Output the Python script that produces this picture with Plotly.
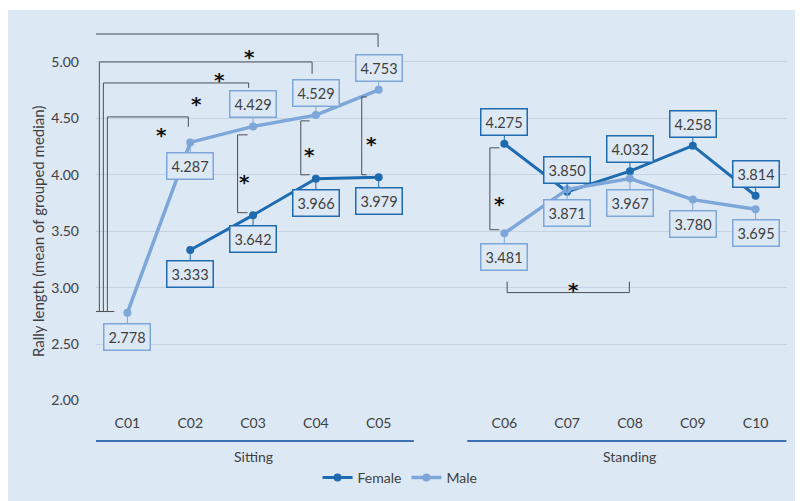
import plotly.graph_objects as go

# ---------------- data ----------------
categories = ["C01", "C02", "C03", "C04", "C05", "C06", "C07", "C08", "C09", "C10"]
groups = ["Sitting"] * 5 + ["Standing"] * 5
female = [None, 3.333, 3.642, 3.966, 3.979, 4.275, 3.850, 4.032, 4.258, 3.814]
male = [2.778, 4.287, 4.429, 4.529, 4.753, 3.481, 3.871, 3.967, 3.780, 3.695]
y_ticks = [2.00, 2.50, 3.00, 3.50, 4.00, 4.50, 5.00]

# label placement (+1 above, -1 below)
female_side = [0, -1, -1, -1, -1, 1, 1, 1, 1, 1]
male_side = [-1, -1, 1, 1, 1, -1, -1, -1, -1, -1]

# ---------------- style ----------------
BG = "#dde8f5"
FEMALE_C = "#1f6bb0"
MALE_C = "#7da6d9"
TXT = "#404040"
BRK = "#4a4f55"
GRID = "#c5d2e2"
FONT = "Lato"

group_names = []
for g in groups:
    if g not in group_names:
        group_names.append(g)
# x positions: one empty slot between groups
x_pos = [i + group_names.index(g) for i, g in enumerate(groups)]

fig = go.Figure()
for series, vals, col, w in [("Female", female, FEMALE_C, 3), ("Male", male, MALE_C, 3.5)]:
    for gi, gname in enumerate(group_names):
        xs = [x for x, g in zip(x_pos, groups) if g == gname]
        ys = [v for v, g in zip(vals, groups) if g == gname]
        fig.add_trace(go.Scatter(
            x=xs, y=ys, mode="lines+markers", name=series,
            legendgroup=series, showlegend=(gi == 0),
            line=dict(color=col, width=w),
            marker=dict(color=col, size=8),
            connectgaps=False, hoverinfo="skip"))

# value labels
for vals, sides, col in [(female, female_side, FEMALE_C), (male, male_side, MALE_C)]:
    for x, v, s in zip(x_pos, vals, sides):
        if v is None:
            continue
        fig.add_annotation(
            x=x, y=v, xref="x", yref="y", text=f"{v:.3f}",
            showarrow=True, arrowhead=0, arrowwidth=1, arrowcolor=col,
            ax=0, ay=-22 if s > 0 else 24, standoff=0,
            bgcolor=BG, bordercolor=col, borderwidth=1.5, borderpad=4,
            font=dict(family=FONT, size=14.5, color=TXT))

# significance brackets (data coordinates)
shapes = []
def path(pts):
    return "M " + " L ".join(f"{a},{b}" for a, b in pts)

c01_y = male[0] + 0.01
left_brackets = [  # (left x, top y, right x, right drop y)
    (-0.51, 5.248, 3.99, 5.133),
    (-0.447, 5.0, 2.94, 4.894),
    (-0.383, 4.814, 1.93, 4.77),
    (-0.319, 4.513, 0.97, 4.425),
]
for lx, ty, rx, dy in left_brackets:
    shapes.append(dict(type="path", xref="x", yref="y",
                       path=path([(rx, dy), (rx, ty), (lx, ty), (lx, c01_y)]),
                       line=dict(color=BRK, width=1)))
shapes.append(dict(type="line", xref="x", yref="y", x0=-0.51, x1=-0.21,
                   y0=c01_y, y1=c01_y, line=dict(color=BRK, width=1)))

vert_brackets = [  # (x line, tick end x, y top, y bottom)
    (1.754, 1.914, 4.354, 3.664),
    (2.76, 2.90, 4.478, 4.0),
    (3.73, 3.81, 4.69, 4.0),
    (5.77, 5.92, 4.239, 3.513),
]
for xl, xt, yt, yb in vert_brackets:
    shapes.append(dict(type="path", xref="x", yref="y",
                       path=path([(xt, yt), (xl, yt), (xl, yb), (xt, yb)]),
                       line=dict(color=BRK, width=1)))
shapes.append(dict(type="path", xref="x", yref="y",
                   path=path([(6.045, 3.053), (6.045, 2.956), (7.99, 2.956), (7.99, 3.053)]),
                   line=dict(color=BRK, width=1)))

# group underline
for gname, x0, x1 in [("Sitting", -0.5, 4.56), ("Standing", 5.41, 10.49)]:
    shapes.append(dict(type="line", xref="x", yref="paper", x0=x0, x1=x1,
                       y0=-0.105, y1=-0.105, line=dict(color="#3f6fb3", width=2)))

# background panel
shapes.append(dict(type="rect", xref="paper", yref="paper", x0=-0.129, x1=1.05,
                   y0=-0.3, y1=1.026, fillcolor=BG, line=dict(width=0), layer="below"))
fig.update_layout(shapes=shapes)

stars = [(1.946, 5.088), (1.467, 4.885), (1.10, 4.673), (0.54, 4.398),
         (1.866, 3.982), (2.90, 4.221), (3.89, 4.319), (5.93, 3.788), (7.10, 3.027)]
for sx, sy in stars:
    fig.add_annotation(x=sx, y=sy, xref="x", yref="y", text="<b>*</b>", showarrow=False,
                       font=dict(family="DejaVu Sans", size=20, color="#111111"),
                       yshift=-5)

# group labels
for gname in group_names:
    xs = [x for x, g in zip(x_pos, groups) if g == gname]
    fig.add_annotation(x=(min(xs) + max(xs)) / 2, y=-0.145, xref="x", yref="paper",
                       xanchor="center", yanchor="middle",
                       text=gname, showarrow=False,
                       font=dict(family=FONT, size=14, color=TXT))

# y-axis title
fig.add_annotation(x=-0.084, y=0.446, xref="paper", yref="paper",
                   xanchor="center", yanchor="middle",
                   text="Rally length (mean of grouped median)", textangle=-90,
                   showarrow=False, font=dict(family=FONT, size=15, color=TXT))

fig.update_layout(
    width=795, height=493,
    margin=dict(l=88, r=16, t=12, b=100, autoexpand=False),
    paper_bgcolor="white", plot_bgcolor=BG,
    font=dict(family=FONT, size=14, color=TXT),
    showlegend=True,
    legend=dict(orientation="h", x=0.44, xanchor="center", y=-0.202, yanchor="middle",
                bgcolor="rgba(0,0,0,0)", font=dict(family=FONT, size=14, color=TXT),
                itemwidth=30),
    xaxis=dict(range=[-0.5, 10.5], tickvals=x_pos, ticktext=categories,
               showgrid=False, zeroline=False, showline=False, automargin=False,
               ticks="outside", ticklen=9, tickcolor="rgba(0,0,0,0)",
               tickfont=dict(family=FONT, size=14, color=TXT)),
    yaxis=dict(range=[1.995, 5.372], tickvals=y_ticks,
               ticktext=[f"{v:.2f}" for v in y_ticks], automargin=False,
               showgrid=True, gridcolor=GRID, gridwidth=1, zeroline=False,
               showline=False, ticks="", ticklabelstandoff=16,
               tickfont=dict(family=FONT, size=14, color=TXT)),
)

fig.write_html("out.html")
